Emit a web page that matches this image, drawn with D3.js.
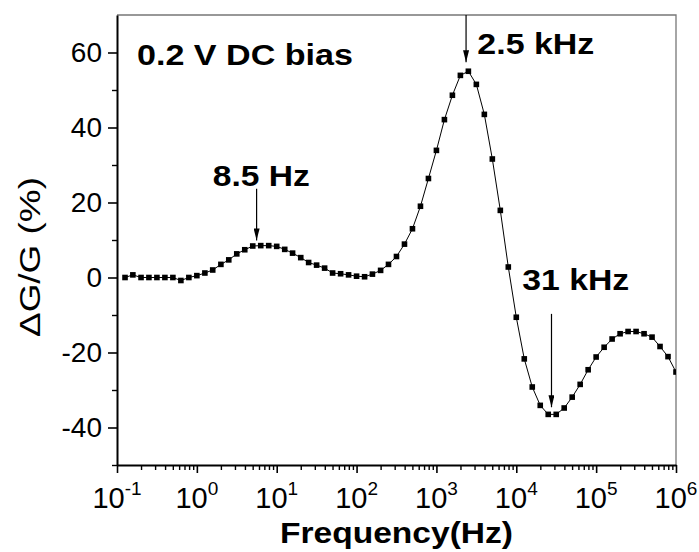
<!DOCTYPE html>
<html>
<head>
<meta charset="utf-8">
<script src="https://cdn.jsdelivr.net/npm/d3@7"></script>
<style>
  body { margin: 0; background: #fff; }
  svg text { font-family: "Liberation Sans", Arial, sans-serif; fill: #000; }
</style>
</head>
<body>
<div id="chart"></div>
<script>
// frequency (Hz), 10 points per decade
var freqs = [0.126, 0.158, 0.2, 0.251, 0.316, 0.398, 0.501, 0.631, 0.794, 1,
  1.26, 1.58, 2, 2.51, 3.16, 3.98, 5.01, 6.31, 7.94, 10,
  12.6, 15.8, 20, 25.1, 31.6, 39.8, 50.1, 63.1, 79.4, 100,
  126, 158, 200, 251, 316, 398, 501, 631, 794, 1000,
  1259, 1585, 1995, 2512, 3162, 3981, 5012, 6310, 7943, 10000,
  12589, 15849, 19953, 25119, 31623, 39811, 50119, 63096, 79433, 100000,
  125893, 158489, 199526, 251189, 316228, 398107, 501187, 630957, 794328, 1000000];
// ΔG/G (%)
var dG = [0, 0.7, 0, 0, 0, 0, 0, -0.8, 0, 0.5,
  1.2, 2.0, 3.5, 4.7, 6.3, 7.4, 8.4, 8.5, 8.5, 8.3,
  7.5, 6.5, 5.3, 4.0, 3.3, 2.5, 1.2, 1.0, 0.7, 0.35,
  0.2, 0.9, 1.9, 3.5, 5.6, 8.9, 13.0, 19.0, 26.4, 33.9,
  42.1, 48.6, 53.9, 55.0, 51.5, 43.5, 31.6, 17.9, 2.8, -10.6,
  -21.7, -29.2, -34.1, -36.5, -36.5, -34.8, -31.9, -28.5, -24.6, -21.2,
  -18.6, -16.4, -15.0, -14.4, -14.4, -15.0, -15.9, -18.4, -21.1, -25.2];

var yTicks = [-40, -20, 0, 20, 40, 60];
var yMinor = [-50, -30, -10, 10, 30, 50];
var xExps = [-1, 0, 1, 2, 3, 4, 5, 6];

// annotations: text position and arrow, in data units
var notes = [
  {label: "8.5 Hz", tx: 6.4, ty: 24.3, anchor: "middle", len: 97, ax: 5.6, y1: 23.7, y2: 9.9},
  {label: "2.5 kHz", tx: 3255, ty: 59.7, anchor: "start", len: 117, ax: 2350, y1: 70, y2: 57.4},
  {label: "31 kHz", tx: 11885, ty: -3.2, anchor: "start", len: 107, ax: 27600, y1: -9.7, y2: -34.6}
];

var W = 699, H = 552;
var pl = 117, pr = 676, pt = 15, pb = 465;

var x = d3.scaleLog().domain([0.1, 1e6]).range([pl, pr]);
var y = d3.scaleLinear().domain([-50, 70]).range([pb, pt]);

var svg = d3.select("#chart").append("svg")
    .attr("width", W).attr("height", H);

var defs = svg.append("defs");
defs.append("clipPath").attr("id", "clip")
  .append("rect").attr("x", pl).attr("y", pt)
  .attr("width", pr - pl).attr("height", pb - pt);

defs.append("marker")
    .attr("id", "head").attr("viewBox", "0 0 12 6")
    .attr("refX", 12).attr("refY", 3)
    .attr("markerWidth", 12).attr("markerHeight", 6)
    .attr("markerUnits", "userSpaceOnUse")
    .attr("orient", "auto")
  .append("path").attr("d", "M0,0 L12,3 L0,6 Z").attr("fill", "#000");

// frame (top and right)
svg.append("path")
    .attr("d", "M" + pl + "," + pt + "H" + pr + "V" + pb)
    .attr("fill", "none").attr("stroke", "#777").attr("stroke-width", 1.3);

// data
var pts = freqs.map(function(f, i) { return [f, dG[i]]; });
var plot = svg.append("g").attr("clip-path", "url(#clip)");
plot.append("path")
    .datum(pts)
    .attr("fill", "none").attr("stroke", "#000").attr("stroke-width", 1)
    .attr("d", d3.line().x(function(d) { return x(d[0]); }).y(function(d) { return y(d[1]); }));
var s = 5.6;
plot.selectAll(".pt").data(pts).enter().append("rect")
    .attr("x", function(d) { return x(d[0]) - s / 2; })
    .attr("y", function(d) { return y(d[1]) - s / 2; })
    .attr("width", s).attr("height", s).attr("fill", "#000");

// x axis
var minors = [];
for (var e = -1; e < 6; e++) for (var m = 2; m <= 9; m++) minors.push(m * Math.pow(10, e));
var majors = xExps.map(function(p) { return Math.pow(10, p); });

svg.append("g").attr("transform", "translate(0," + pb + ")")
    .call(d3.axisBottom(x).tickValues(minors).tickSize(5).tickSizeOuter(0).tickFormat(""))
    .call(function(g) { g.select(".domain").remove(); g.selectAll("line").attr("stroke-width", 1.4); });
svg.append("g").attr("transform", "translate(0," + pb + ")")
    .call(d3.axisBottom(x).tickValues(majors).tickSize(8).tickSizeOuter(0).tickFormat(""))
    .call(function(g) {
      g.select(".domain").attr("stroke-width", 2);
      g.selectAll("line").attr("stroke-width", 1.6);
    });

var xl = svg.append("g").selectAll("text").data(xExps).enter().append("text")
    .attr("x", function(p) { return x(Math.pow(10, p)); })
    .attr("y", pb + 43)
    .attr("text-anchor", "middle")
    .style("font-size", "29px");
xl.append("tspan").text("10");
xl.append("tspan").attr("dy", -13).style("font-size", "19px").text(function(p) { return p; });

// y axis
svg.append("g").attr("transform", "translate(" + pl + ",0)")
    .call(d3.axisLeft(y).tickValues(yMinor).tickSize(5).tickSizeOuter(0).tickFormat(""))
    .call(function(g) { g.select(".domain").remove(); g.selectAll("line").attr("stroke-width", 1.4); });
svg.append("g").attr("transform", "translate(" + pl + ",0)")
    .call(d3.axisLeft(y).tickValues(yTicks).tickSize(9).tickPadding(6).tickSizeOuter(0)
      .tickFormat(function(d) { return String(d); }))
    .call(function(g) {
      g.select(".domain").attr("stroke-width", 2);
      g.selectAll("line").attr("stroke-width", 1.6);
      g.selectAll("text").style("font-size", "28px").style("font-family", "'Liberation Sans', Arial, sans-serif");
    });

// axis titles
svg.append("text")
    .attr("x", 280).attr("y", 543)
    .attr("textLength", 233).attr("lengthAdjust", "spacingAndGlyphs")
    .style("font-size", "29px").style("font-weight", "bold")
    .text("Frequency(Hz)");
svg.append("text")
    .attr("transform", "translate(40,257) rotate(-90)")
    .attr("text-anchor", "middle")
    .attr("textLength", 160).attr("lengthAdjust", "spacingAndGlyphs")
    .style("font-size", "30px")
    .text("ΔG/G (%)");

// bias label
svg.append("text")
    .attr("x", x(0.178)).attr("y", y(56.8))
    .attr("textLength", 216).attr("lengthAdjust", "spacingAndGlyphs")
    .style("font-size", "29px").style("font-weight", "bold")
    .text("0.2 V DC bias");

// peak annotations
notes.forEach(function(n) {
  svg.append("text")
      .attr("x", x(n.tx)).attr("y", y(n.ty))
      .attr("text-anchor", n.anchor)
      .attr("textLength", n.len).attr("lengthAdjust", "spacingAndGlyphs")
      .style("font-size", "29px").style("font-weight", "bold")
      .text(n.label);
  svg.append("line")
      .attr("x1", x(n.ax)).attr("x2", x(n.ax))
      .attr("y1", y(n.y1)).attr("y2", y(n.y2))
      .attr("stroke", "#000").attr("stroke-width", 1.2)
      .attr("marker-end", "url(#head)");
});
</script>
</body>
</html>
